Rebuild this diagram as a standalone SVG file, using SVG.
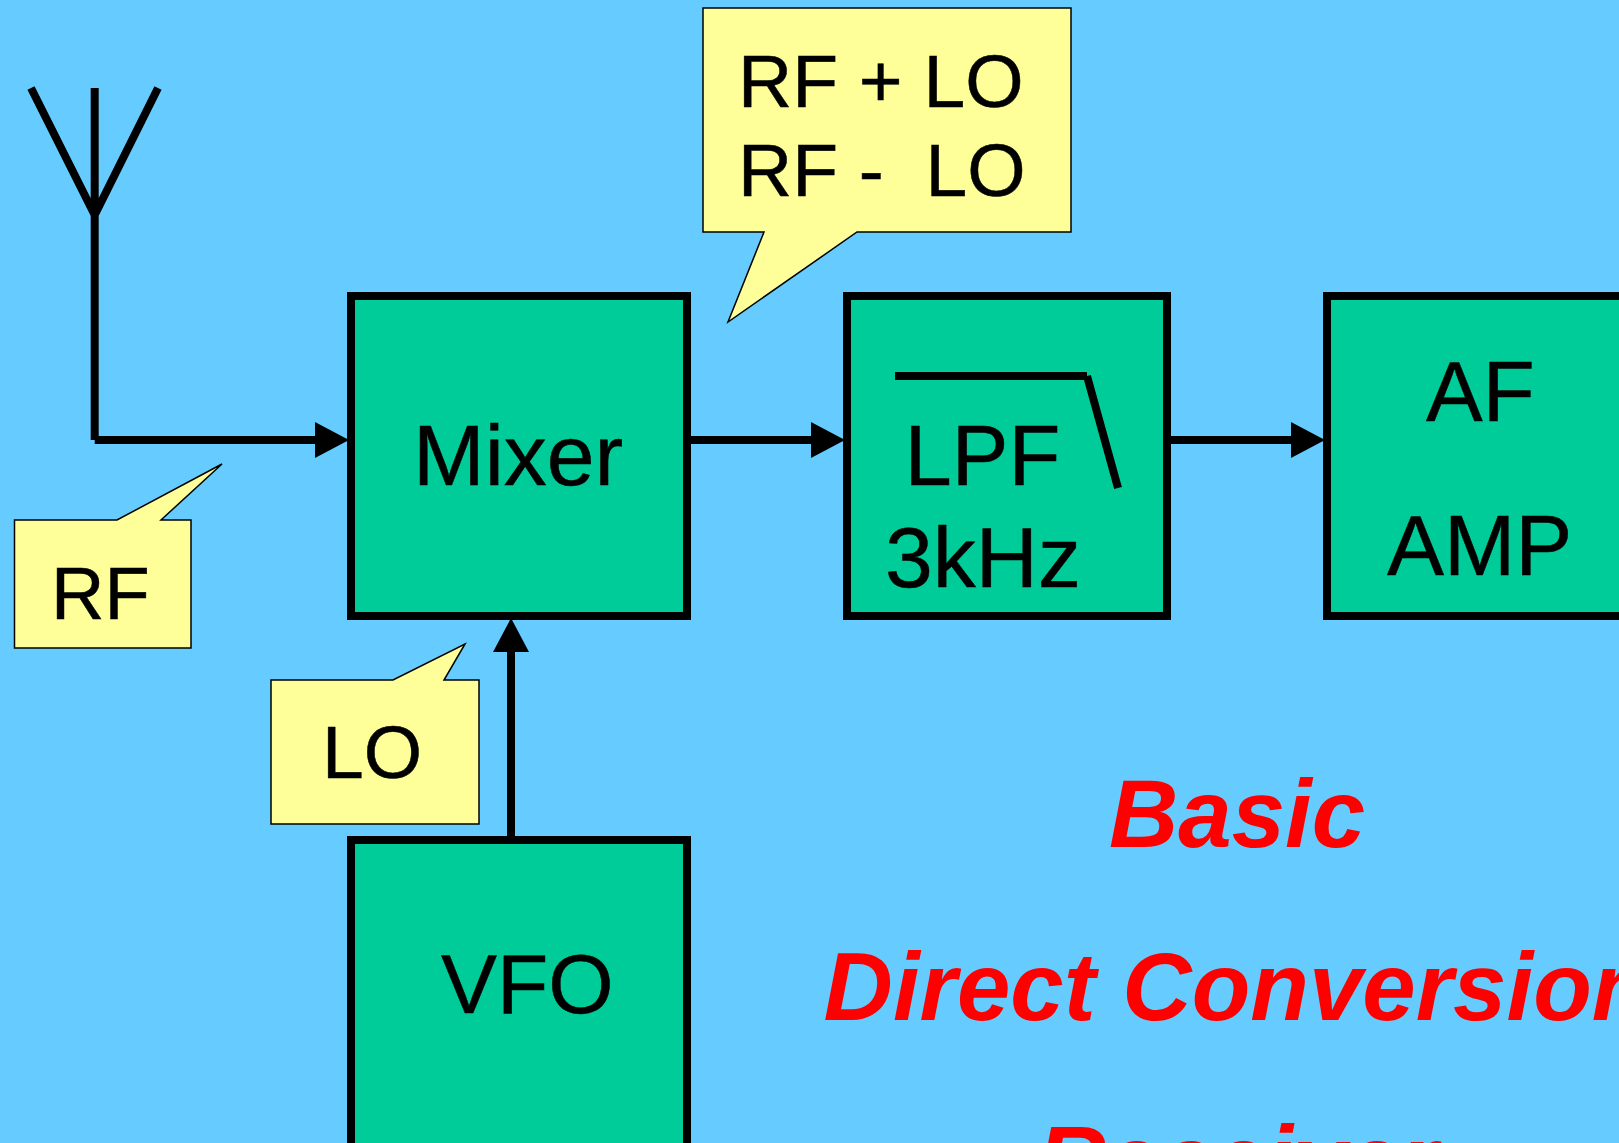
<svg xmlns="http://www.w3.org/2000/svg" width="1619" height="1143" viewBox="0 0 1619 1143">
<style>
.box{fill:#00CC99;stroke:#000;stroke-width:8}
.call{fill:#FFFF99;stroke:#000;stroke-width:1.5;stroke-linejoin:miter}
.t{font-family:"Liberation Sans",Arial,sans-serif;fill:#000;stroke:#000;stroke-width:.5;font-size:85px}
.c{font-size:75px}
.r{font-family:"Liberation Sans",Arial,sans-serif;fill:#F00;font-size:96px;font-weight:bold;font-style:italic;text-anchor:middle}
.w{fill:none;stroke:#000;stroke-width:8}
</style>
<defs>
<marker id="a" markerUnits="userSpaceOnUse" markerWidth="35" markerHeight="36" refX="0" refY="18" orient="auto"><path d="M0 0L34 18L0 36z" fill="#000"/></marker>
</defs>
<rect width="1619" height="1143" fill="#66CCFF"/>
<g id="connectors">
<path class="w" d="M31 88L94.700 215M158 88L94.700 215M94.700 88V440"/>
<path class="w" d="M94.700 440H315" marker-end="url(#a)"/>
<path class="w" d="M690 440H811" marker-end="url(#a)"/>
<path class="w" d="M1170 440H1291" marker-end="url(#a)"/>
<path class="w" d="M511 836V652" marker-end="url(#a)"/>
</g>
<g id="mixer"><rect class="box" x="351" y="296" width="336" height="320"/><text class="t" x="413" y="485" style="font-size:86px">Mixer</text></g>
<g id="lpf"><rect class="box" x="847" y="296" width="320" height="320"/>
<path class="w" d="M895 376H1087M1087 376L1118 488"/>
<text class="t" x="904.500" y="485">LPF</text><text class="t" x="885" y="587" style="font-size:86px">3kHz</text></g>
<g id="af-amp"><rect class="box" x="1327" y="296" width="320" height="320"/><text class="t" x="1426" y="420.500">AF</text><text class="t" x="1387" y="574.500" style="font-size:85.500px">AMP</text></g>
<g id="vfo"><rect class="box" x="351" y="840" width="336" height="320"/><text class="t" x="441" y="1013" style="font-size:84px">VFO</text></g>
<g id="rf-callout"><path class="call" d="M14.500 520H117L222 464L161 520H191V648H14.500z"/><text class="t c" x="51" y="619" style="font-size:74px">RF</text></g>
<g id="lo-callout"><path class="call" d="M271 680H393L465 644L444 680H479V824H271z"/><text class="t c" x="322" y="778">LO</text></g>
<g id="sum-callout"><path class="call" d="M703 8H1071V232H857L728 322L764 232H703z"/><text class="t c" x="738" y="107">RF + LO</text><text class="t c" x="738" y="196" xml:space="preserve">RF -  LO</text></g>
<g id="title"><text class="r" x="1237" y="847">Basic</text><text class="r" x="1237" y="1020">Direct Conversion</text><text class="r" x="1237" y="1193">Receiver</text></g>
</svg>
